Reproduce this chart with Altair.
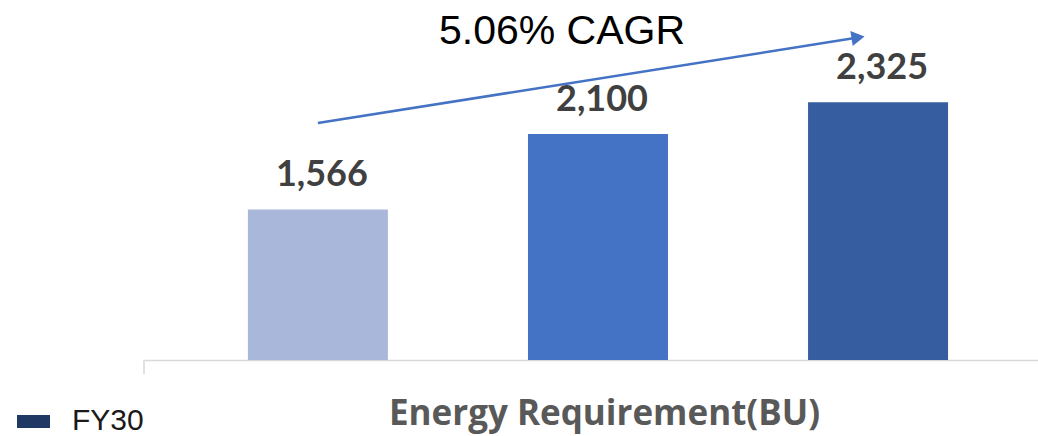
import altair as alt
import pandas as pd

# ---- data ----
categories = ["Y1", "Y2", "Y3"]
values = [1566, 2100, 2325]
bar_colors = ["#A9B7DB", "#4472C4", "#355D9F"]
label_texts = ["1,566", "2,100", "2,325"]

axis_title = "Energy Requirement(BU)"
legend_label = "FY30"
legend_color = "#203864"

cagr_text = "5.06% CAGR"
arrow_from_cat = "Y1"
arrow_to_cat = "Y3"
arrow_from_val = 2178
arrow_to_val = 2784
cagr_cat = "Y2"
cagr_val = 2740

Y_MIN, Y_MAX = 500, 3000
W, H = 894, 353

bars_df = pd.DataFrame({"cat": categories, "value": values, "label": label_texts})
arrow_df = pd.DataFrame({"cat": [arrow_from_cat], "cat_end": [arrow_to_cat],
                         "value": [arrow_from_val], "value_end": [arrow_to_val]})
head_df = pd.DataFrame({"cat": [arrow_to_cat], "value": [arrow_to_val]})
cagr_df = pd.DataFrame({"cat": [cagr_cat], "value": [cagr_val], "label": [cagr_text]})
legend_df = pd.DataFrame({"label": [legend_label]})

x_enc = alt.X(
    "cat:N",
    scale=alt.Scale(domain=categories, paddingInner=0.5, paddingOuter=0.346, align=0.536),
    axis=alt.Axis(
        title=axis_title, labels=False, ticks=False,
        domainColor="#D9D9D9", domainWidth=1.5,
        titleFont="Open Sans", titleFontWeight="bold", titleFontSize=35,
        titleColor="#595959", titleX=460, titleY=64,
        titleBaseline="alphabetic", titleAlign="center",
    ),
)
y_scale = alt.Scale(domain=[Y_MIN, Y_MAX], zero=False, nice=False)

bars = alt.Chart(bars_df).mark_bar(size=140).encode(
    x=x_enc,
    y=alt.Y("value:Q", scale=y_scale, axis=None),
    y2=alt.datum(Y_MIN),
    color=alt.Color("cat:N", scale=alt.Scale(domain=categories, range=bar_colors), legend=None),
)

labels = alt.Chart(bars_df).mark_text(
    font="Lato", fontWeight="bold", fontSize=36, color="#404040",
    baseline="alphabetic", align="center", dy=-23, dx=4,
).encode(
    x=alt.X("cat:N"),
    y=alt.Y("value:Q"),
    text="label:N",
)

arrow_line = alt.Chart(arrow_df).mark_rule(color="#4472C4", strokeWidth=2.5).encode(
    x=alt.X("cat:N", bandPosition=0.5),
    x2=alt.X2("cat_end", bandPosition=0.357),
    y=alt.Y("value:Q"),
    y2="value_end:Q",
)

arrow_head = alt.Chart(head_df).mark_point(
    shape="triangle-right", filled=True, size=230, color="#4472C4", opacity=1, angle=351,
).encode(
    x=alt.X("cat:N", bandPosition=0.357),
    y=alt.Y("value:Q"),
)

cagr = alt.Chart(cagr_df).mark_text(
    font="Liberation Sans", fontSize=41, color="#000000",
    baseline="alphabetic", align="center",
).encode(
    x=alt.X("cat:N", bandPosition=0.243),
    y=alt.Y("value:Q"),
    text="label:N",
)

left_tick = alt.Chart(legend_df).mark_rule(color="#D9D9D9", strokeWidth=1.5).encode(
    x=alt.value(0), y=alt.value(H), y2=alt.value(H + 14),
)

legend_swatch = alt.Chart(legend_df).mark_rect(color=legend_color).encode(
    x=alt.value(-127), x2=alt.value(-94), y=alt.value(408), y2=alt.value(421),
)
legend_text = alt.Chart(legend_df).mark_text(
    font="Liberation Sans", fontSize=30, color="#1A1A1A", align="left", baseline="alphabetic",
).encode(
    x=alt.value(-72), y=alt.value(423), text="label:N",
)

chart = alt.layer(
    bars, labels, arrow_line, arrow_head, cagr, left_tick, legend_swatch, legend_text
).properties(
    width=W, height=H,
    autosize=alt.AutoSizeParams(type="none"),
    padding={"left": 144, "top": 7, "right": 0, "bottom": 76},
).configure(background="white").configure_view(stroke=None, strokeWidth=0)

chart.save("out.html", embed_options={"renderer": "svg", "actions": False})
